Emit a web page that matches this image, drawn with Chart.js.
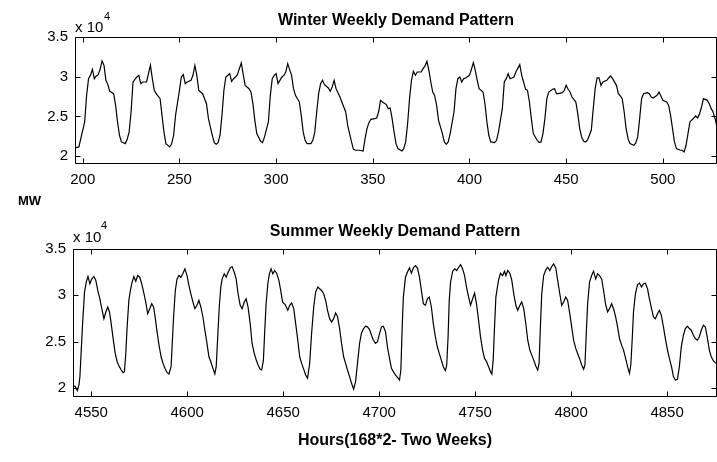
<!DOCTYPE html>
<html>
<head>
<meta charset="utf-8">
<script src="https://cdn.jsdelivr.net/npm/chart.js@4.4.1/dist/chart.umd.min.js"></script>
<style>
  html, body { margin: 0; padding: 0; background: #fff; }
  #wrap { position: relative; width: 717px; height: 462px; overflow: hidden; background: #fff;
          font-family: "Liberation Sans", Arial, sans-serif; color: #000; }
  canvas { position: absolute; left: 0; }
  .lbl { position: absolute; white-space: nowrap; }
  .title { font-weight: bold; font-size: 16px; line-height: 16px; text-align: center; }
  .mult { font-size: 15px; line-height: 15px; }
  .sup { font-size: 11px; line-height: 11px; }
</style>
</head>
<body>
<div id="wrap">
  <canvas id="winter" width="717" height="200" style="top:0"></canvas>
  <canvas id="summer" width="717" height="262" style="top:200px"></canvas>

  <div class="lbl title" style="left:75px;width:642px;top:12px">Winter Weekly Demand Pattern</div>
  <div class="lbl mult" style="left:75px;top:19px">x 10</div>
  <div class="lbl sup" style="left:104px;top:11px">4</div>

  <div class="lbl" style="left:18px;top:194px;font-weight:bold;font-size:13px;line-height:13px">MW</div>

  <div class="lbl title" style="left:73px;width:644px;top:223px">Summer Weekly Demand Pattern</div>
  <div class="lbl mult" style="left:73px;top:229px">x 10</div>
  <div class="lbl sup" style="left:101px;top:220px">4</div>

  <div class="lbl title" style="left:73px;width:644px;top:432px">Hours(168*2- Two Weeks)</div>
</div>
<script>
// Hourly demand (MW)
const winterHours = [
  196, 198, 199, 201, 202, 203, 204, 205, 206, 207,
  208, 209, 210, 211, 212, 213, 214, 216, 217, 218,
  219, 220, 222, 223, 224, 225, 226, 228, 229, 230,
  231, 233, 234, 235, 236, 237, 238, 240, 241, 242,
  243, 245, 246, 247, 248, 250, 251, 252, 253, 254,
  256, 257, 258, 259, 260, 262, 263, 264, 265, 267,
  268, 269, 270, 271, 272, 273, 274, 276, 277, 278,
  279, 280, 281, 282, 283, 284, 286, 287, 288, 289,
  290, 292, 293, 294, 296, 297, 298, 299, 300, 301,
  303, 304, 305, 306, 308, 309, 310, 312, 313, 314,
  315, 316, 318, 319, 320, 321, 322, 323, 324, 325,
  327, 328, 329, 330, 331, 333, 334, 335, 336, 337,
  339, 340, 341, 343, 345, 346, 347, 348, 349, 351,
  352, 353, 354, 355, 357, 358, 359, 360, 361, 362,
  363, 365, 366, 367, 368, 369, 370, 371, 372, 373,
  375, 376, 377, 378, 379, 380, 381, 382, 383, 384,
  386, 387, 388, 389, 390, 392, 393, 394, 395, 396,
  397, 398, 400, 401, 402, 403, 404, 405, 407, 408,
  409, 410, 411, 413, 414, 415, 417, 418, 419, 420,
  421, 422, 423, 424, 426, 427, 428, 429, 430, 431,
  432, 433, 435, 436, 437, 438, 439, 440, 441, 443,
  444, 445, 446, 448, 449, 450, 451, 452, 453, 455,
  456, 457, 458, 459, 460, 461, 463, 464, 465, 466,
  467, 468, 469, 471, 472, 473, 474, 476, 477, 478,
  479, 480, 481, 482, 483, 485, 486, 487, 488, 489,
  490, 492, 493, 494, 495, 497, 498, 499, 500, 502,
  503, 504, 505, 506, 507, 509, 510, 511, 512, 513,
  514, 516, 517, 518, 519, 520, 521, 523, 524, 525,
  526, 527, 528
];
const winterMW = [
  21020, 21150, 22200, 24300, 27650, 29750, 30170, 30930, 29750, 30090,
  30260, 30930, 31980, 31430, 29540, 29000, 28160, 27860, 26390, 24300,
  22620, 21780, 21570, 22110, 23040, 25550, 29330, 29960, 30170, 29120,
  29330, 29330, 30380, 31430, 29750, 28280, 27860, 27230, 25130, 23040,
  21570, 21150, 21570, 22620, 25130, 28280, 29960, 30260, 29120, 29330,
  29540, 30170, 31430, 30170, 28280, 27860, 27230, 26600, 24710, 22620,
  21690, 21480, 21690, 22620, 25130, 28280, 29960, 30380, 29420, 29750,
  29960, 30260, 31010, 31730, 30260, 28910, 28490, 28070, 26600, 24500,
  22830, 21860, 21690, 22410, 24300, 27650, 29750, 30170, 30380, 29120,
  29960, 30170, 30590, 31640, 30170, 28490, 27650, 26810, 25130, 23040,
  21990, 21570, 21570, 21990, 23040, 25550, 27860, 29120, 29540, 29000,
  28580, 28160, 28700, 29540, 28490, 27440, 26810, 26180, 25550, 23880,
  21780, 20850, 20730, 20730, 20640, 22200, 23460, 24210, 24630, 24710,
  24800, 25550, 27020, 26810, 26480, 25970, 26060, 24710, 23040, 21570,
  20940, 20640, 20940, 21780, 24080, 27230, 29540, 30680, 30170, 30590,
  30590, 31010, 31350, 31940, 30800, 29330, 28070, 27650, 26390, 24500,
  22830, 21780, 21480, 21780, 22830, 25550, 28490, 29750, 29960, 29330,
  29750, 29840, 30170, 30930, 31770, 30800, 29540, 28490, 28070, 26600,
  24300, 22620, 21780, 21690, 21990, 23040, 26000, 29330, 29750, 30380,
  29750, 29840, 29960, 30590, 31520, 30170, 29330, 28410, 28280, 26810,
  24710, 22830, 21990, 21690, 21780, 22830, 24710, 27230, 28070, 28410,
  28490, 27860, 27860, 27990, 28280, 28910, 28410, 28070, 27440, 26810,
  25340, 23460, 22410, 21900, 21780, 21990, 23250, 25970, 28490, 29840,
  29840, 28910, 29330, 29540, 29840, 30090, 29750, 28910, 27860, 27570,
  27230, 25550, 23460, 22200, 21570, 21360, 21650, 22410, 24710, 27230,
  27860, 27990, 27860, 27440, 27320, 27650, 28070, 27570, 27020, 26810,
  26390, 25130, 23460, 21780, 20940, 20730, 20730, 20520, 21360, 22830,
  24300, 24800, 25050, 24800, 25340, 26180, 27230, 27020, 26600, 25970,
  25550, 24710, 23660
];

const summerHours = [
  4540.6, 4541.7, 4542.7, 4543.6, 4544.1, 4544.8, 4545.6, 4546.5, 4547.4, 4548.3,
  4549.3, 4550.3, 4551.4, 4552.4, 4553.4, 4554.5, 4555.5, 4556.6, 4557.6, 4558.6,
  4559.5, 4560.4, 4561.4, 4562.5, 4563.5, 4564.5, 4565.6, 4566.6, 4567.3, 4568.0,
  4568.7, 4569.6, 4570.4, 4571.3, 4572.2, 4573.2, 4574.2, 4575.3, 4576.3, 4577.3,
  4578.4, 4579.4, 4580.5, 4581.5, 4582.5, 4583.4, 4584.3, 4585.3, 4586.4, 4587.4,
  4588.4, 4589.5, 4590.5, 4591.6, 4592.2, 4592.9, 4593.8, 4594.7, 4595.7, 4596.7,
  4597.8, 4598.8, 4599.9, 4600.9, 4601.9, 4603.0, 4604.0, 4605.1, 4606.1, 4607.1,
  4608.2, 4609.2, 4610.3, 4611.3, 4612.3, 4613.4, 4614.4, 4615.1, 4615.8, 4616.7,
  4617.5, 4618.2, 4619.3, 4620.3, 4621.3, 4622.4, 4623.4, 4624.5, 4625.5, 4626.5,
  4627.6, 4628.6, 4629.7, 4630.7, 4631.7, 4632.8, 4633.8, 4634.9, 4635.9, 4636.9,
  4638.0, 4638.8, 4639.7, 4640.4, 4641.1, 4642.0, 4642.8, 4643.7, 4644.6, 4645.6,
  4646.6, 4647.7, 4648.7, 4649.7, 4651.0, 4652.4, 4653.4, 4654.4, 4655.5, 4656.5,
  4657.6, 4658.6, 4659.6, 4660.7, 4661.7, 4662.7, 4663.8, 4664.8, 4665.9, 4666.9,
  4668.0, 4669.0, 4670.0, 4671.1, 4672.1, 4673.1, 4674.2, 4675.2, 4676.3, 4677.3,
  4678.3, 4679.4, 4680.4, 4681.5, 4682.5, 4683.5, 4684.6, 4685.6, 4686.7, 4687.7,
  4688.7, 4689.8, 4690.8, 4691.9, 4692.9, 4693.9, 4695.0, 4696.0, 4697.0, 4698.1,
  4699.1, 4700.2, 4701.2, 4702.2, 4703.3, 4704.3, 4705.4, 4706.4, 4707.4, 4708.5,
  4709.5, 4710.6, 4711.3, 4712.0, 4712.6, 4713.7, 4714.7, 4715.8, 4716.8, 4717.8,
  4718.9, 4719.9, 4721.0, 4722.0, 4723.0, 4724.1, 4725.1, 4726.1, 4727.2, 4728.2,
  4729.3, 4730.3, 4731.3, 4732.4, 4733.4, 4734.5, 4735.2, 4735.9, 4736.5, 4737.2,
  4738.3, 4739.3, 4740.4, 4741.4, 4742.4, 4743.5, 4744.5, 4745.5, 4746.6, 4747.6,
  4748.7, 4749.7, 4750.7, 4751.8, 4752.8, 4753.9, 4754.9, 4756.0, 4757.0, 4758.0,
  4758.7, 4759.4, 4760.1, 4760.8, 4762.2, 4763.2, 4764.3, 4765.3, 4766.0, 4767.0,
  4768.1, 4769.1, 4770.1, 4771.2, 4772.2, 4773.3, 4774.3, 4775.3, 4776.4, 4777.4,
  4778.5, 4779.5, 4780.5, 4781.6, 4782.6, 4783.3, 4784.0, 4784.7, 4785.7, 4786.8,
  4787.8, 4788.9, 4789.9, 4790.9, 4792.0, 4793.0, 4794.1, 4795.1, 4796.1, 4797.2,
  4798.2, 4799.3, 4800.3, 4801.3, 4802.4, 4803.4, 4804.4, 4805.5, 4806.5, 4807.2,
  4807.9, 4808.6, 4809.6, 4810.7, 4811.7, 4812.8, 4813.8, 4814.8, 4815.9, 4816.9,
  4817.9, 4819.0, 4820.0, 4821.1, 4822.1, 4823.2, 4824.2, 4825.2, 4826.3, 4827.3,
  4828.4, 4829.4, 4830.4, 4831.1, 4831.8, 4832.5, 4833.5, 4834.6, 4835.6, 4836.7,
  4837.7, 4838.7, 4839.8, 4840.8, 4841.9, 4842.9, 4843.9, 4845.0, 4846.0, 4847.0,
  4848.1, 4849.1, 4850.2, 4851.2, 4852.3, 4853.3, 4854.3, 4855.4, 4856.4, 4857.4,
  4858.5, 4859.5, 4860.6, 4861.6, 4862.6, 4863.7, 4864.7, 4865.8, 4866.8, 4867.8,
  4868.9, 4869.9, 4870.9, 4872.0, 4873.0, 4874.1, 4875.5
];
const summerMW = [
  20200, 20130, 19700, 20300, 21200, 24070, 27290, 30340, 31420, 32030,
  31240, 31770, 32030, 31600, 30520, 29620, 28550, 27470, 28190, 28730,
  28190, 26940, 25320, 23710, 22810, 22350, 21920, 21630, 21740, 23710,
  26580, 29440, 30520, 31420, 32030, 31520, 32130, 31950, 31240, 30340,
  29260, 28010, 28550, 29090, 28730, 27470, 26040, 24610, 23350, 22630,
  22100, 21630, 21490, 22280, 24790, 27650, 30520, 31770, 32130, 31950,
  32380, 32850, 32130, 31060, 30160, 29260, 28550, 28910, 29440, 28730,
  27650, 26220, 24790, 23350, 22810, 22100, 21490, 22280, 25140, 28730,
  30880, 31770, 32310, 31950, 32490, 32960, 33100, 32490, 31770, 30160,
  28910, 28550, 29260, 29620, 28730, 26940, 24790, 23710, 23060, 22460,
  21990, 21920, 22990, 26220, 29090, 31240, 32310, 32850, 32310, 32670,
  32380, 31670, 30520, 29260, 29000, 28370, 28910, 29160, 28550, 26940,
  25140, 23350, 22630, 21990, 21380, 21020, 22630, 25860, 28730, 30340,
  30880, 30700, 30520, 30160, 29440, 28370, 27470, 27110, 27470, 28080,
  27720, 26400, 24790, 23350, 22630, 21920, 21200, 20480, 19840, 20660,
  22630, 24790, 25930, 26400, 26650, 26580, 26290, 25680, 25140, 24790,
  24970, 25860, 26580, 26650, 26040, 24430, 23170, 22100, 21740, 21380,
  21130, 20840, 21920, 26580, 29800, 31950, 32490, 32960, 32380, 32960,
  33210, 32960, 31950, 30520, 29090, 28910, 29620, 29800, 28730, 26940,
  25500, 24430, 23710, 22990, 22280, 21850, 22460, 25500, 29440, 31420,
  32600, 32850, 32670, 33030, 33310, 32850, 32130, 30880, 29800, 28910,
  29620, 30230, 29090, 27290, 25500, 24070, 23170, 22810, 22280, 21740,
  21490, 22990, 26580, 29800, 31670, 32380, 32130, 32600, 32130, 32670,
  32380, 31600, 30160, 28910, 28370, 28910, 29270, 28550, 26940, 25140,
  24070, 23530, 22990, 22350, 21920, 22630, 26580, 30160, 32130, 32740,
  33030, 32670, 33100, 33390, 32960, 31600, 30160, 28910, 29270, 29800,
  29440, 28010, 26580, 25140, 24250, 23710, 23170, 22460, 21990, 22460,
  25860, 29090, 31420, 32130, 32600, 31770, 32310, 32130, 31770, 30520,
  29090, 28190, 28550, 29090, 28550, 27650, 26580, 25320, 24610, 24070,
  23170, 22280, 21560, 22460, 25140, 28190, 30160, 31160, 31310, 30880,
  31240, 31310, 30700, 29620, 28550, 27650, 27470, 28010, 28370, 27830,
  26580, 25320, 24070, 23170, 22280, 21200, 20840, 20910, 22280, 24430,
  25680, 26400, 26650, 26400, 26220, 25680, 25320, 25140, 25500, 26220,
  26760, 26580, 25500, 24070, 23350, 22920, 22630
];

const winterTicks = [200, 250, 300, 350, 400, 450, 500];
const summerTicks = [4550, 4600, 4650, 4700, 4750, 4800, 4850];
const mwTicks = [20000, 25000, 30000, 35000];

const FONT = '"Liberation Sans", Arial, sans-serif';

// MATLAB-like box with inward tick marks on all four sides
const boxPlugin = {
  id: 'box',
  afterDraw(chart) {
    const { ctx, chartArea: a, scales: { x, y } } = chart;
    const L = Math.round(a.left) + 0.5, R = Math.round(a.right) - 0.5;
    const T = Math.round(a.top) + 0.5, B = Math.round(a.bottom) - 0.5;
    ctx.save();
    ctx.strokeStyle = '#000';
    ctx.lineWidth = 1;
    ctx.beginPath();
    ctx.rect(L, T, R - L, B - T);
    x.ticks.forEach((t) => {
      const px = Math.round(x.getPixelForValue(t.value)) + 0.5;
      ctx.moveTo(px, B); ctx.lineTo(px, B - 5);
      ctx.moveTo(px, T); ctx.lineTo(px, T + 5);
    });
    y.ticks.forEach((t) => {
      const py = Math.round(y.getPixelForValue(t.value)) + 0.5;
      ctx.moveTo(L, py); ctx.lineTo(L + 5, py);
      ctx.moveTo(R, py); ctx.lineTo(R - 5, py);
    });
    ctx.stroke();
    ctx.restore();
  },
};

function demandChart(id, hours, mw, xTicks, xMin, xMax, box) {
  return new Chart(document.getElementById(id), {
    type: 'line',
    data: {
      datasets: [{
        data: hours.map((h, i) => ({ x: h, y: mw[i] })),
        borderColor: '#000',
        borderWidth: 1.2,
        pointRadius: 0,
        tension: 0,
        fill: false,
      }],
    },
    options: {
      responsive: false,
      animation: false,
      devicePixelRatio: 1,
      layout: { padding: { top: box.top, bottom: box.bottom, left: 0, right: 0 } },
      plugins: { legend: { display: false }, tooltip: { enabled: false } },
      scales: {
        x: {
          type: 'linear', min: xMin, max: xMax,
          afterBuildTicks: (s) => { s.ticks = xTicks.map((v) => ({ value: v })); },
          afterFit: (s) => { s.height = 30; },
          ticks: {
            font: { family: FONT, size: 15 }, color: '#000', padding: 7,
            maxRotation: 0, autoSkip: false, callback: (v) => String(v),
          },
          grid: { display: false, drawTicks: false },
          border: { display: false },
        },
        y: {
          min: 19000, max: 35000,
          afterBuildTicks: (s) => { s.ticks = mwTicks.map((v) => ({ value: v })); },
          afterFit: (s) => { s.width = box.left; },
          ticks: { font: { family: FONT, size: 15 }, color: '#000', padding: 7, callback: (v) => String(v / 1e4) },
          grid: { display: false, drawTicks: false },
          border: { display: false },
        },
      },
    },
    plugins: [boxPlugin],
  });
}

demandChart('winter', winterHours, winterMW, winterTicks, 196, 528, { left: 75, top: 37, bottom: 6 });
demandChart('summer', summerHours, summerMW, summerTicks, 4540.5, 4876, { left: 73, top: 49, bottom: 35 });
</script>
</body>
</html>
